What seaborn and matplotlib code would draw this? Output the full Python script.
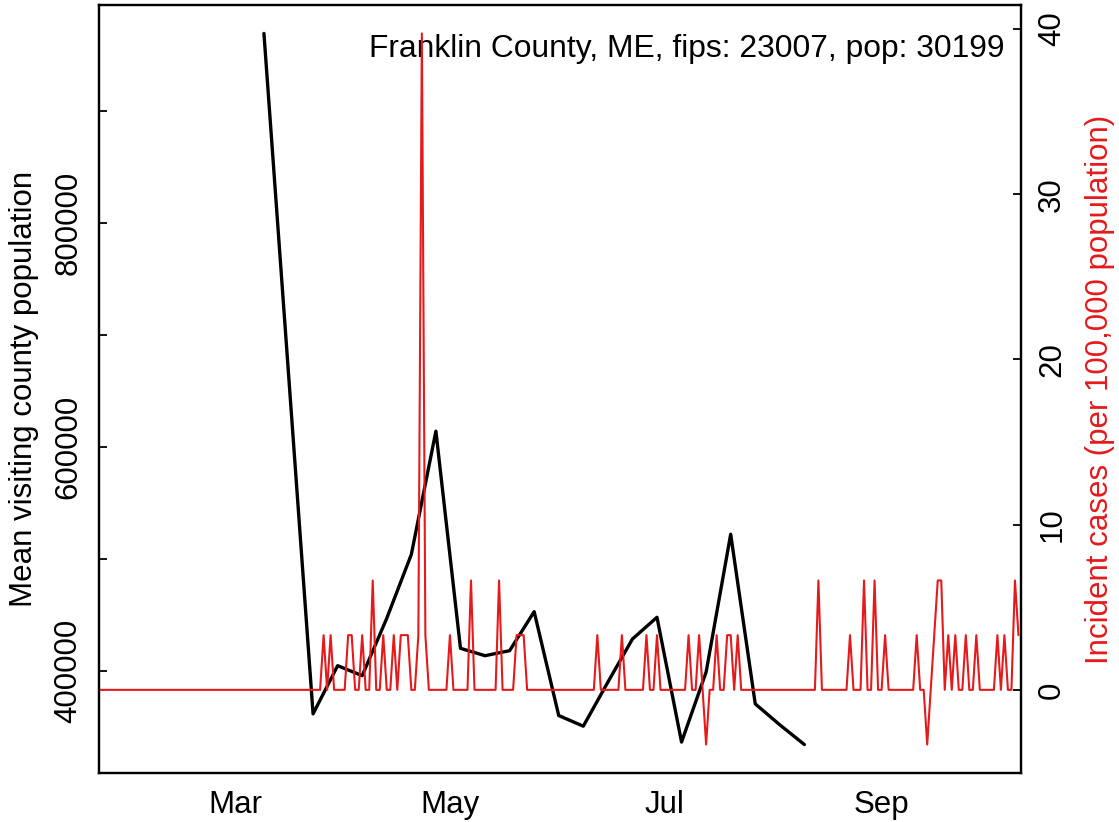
import numpy as np
import pandas as pd
import matplotlib
matplotlib.use("Agg")
import matplotlib.pyplot as plt
import matplotlib.dates as mdates
import matplotlib.ticker as mticker
import seaborn as sns

# weekly mean visiting county population (left axis, black)
visit_dates = ["2020-03-09", "2020-03-23", "2020-03-30", "2020-04-06", "2020-04-13",
               "2020-04-20", "2020-04-27", "2020-05-04", "2020-05-11", "2020-05-18",
               "2020-05-25", "2020-06-01", "2020-06-08", "2020-06-15", "2020-06-22",
               "2020-06-29", "2020-07-06", "2020-07-13", "2020-07-20", "2020-07-27",
               "2020-08-03", "2020-08-10"]
visit_pop = [969000, 361700, 404700, 395800, 447000,
             504000, 614000, 420200, 413600, 418100,
             452900, 360200, 350700, 390000, 428500,
             447900, 336500, 399000, 522000, 370600,
             351900, 334300]

# daily new cases (right axis, red); days not listed had 0 new cases
case_start = "2020-01-22"
case_end = "2020-10-10"
case_dates = ["2020-03-26", "2020-03-28", "2020-04-02", "2020-04-03", "2020-04-06",
              "2020-04-09", "2020-04-12", "2020-04-15", "2020-04-17", "2020-04-18",
              "2020-04-19", "2020-04-22", "2020-04-23", "2020-04-24", "2020-05-01",
              "2020-05-07", "2020-05-15", "2020-05-20", "2020-05-21", "2020-05-22",
              "2020-06-12", "2020-06-19", "2020-06-26", "2020-06-29", "2020-07-08",
              "2020-07-11", "2020-07-13", "2020-07-16", "2020-07-19", "2020-07-20",
              "2020-07-22", "2020-08-14", "2020-08-23", "2020-08-27", "2020-08-30",
              "2020-09-02", "2020-09-11", "2020-09-14", "2020-09-16", "2020-09-17",
              "2020-09-18", "2020-09-20", "2020-09-22", "2020-09-25", "2020-09-28",
              "2020-10-04", "2020-10-06", "2020-10-09", "2020-10-10"]
case_counts = [1, 1, 1, 1, 1,
               2, 1, 1, 1, 1,
               1, 1, 12, 1, 1,
               2, 2, 1, 1, 1,
               1, 1, 1, 1, 1,
               1, -1, 1, 1, 1,
               1, 2, 1, 2, 2,
               1, 1, -1, 1, 2,
               2, 1, 1, 1, 1,
               1, 1, 2, 1]
county_pop = 30199

label_text = "Franklin County, ME, fips: 23007, pop: 30199"

# build tables
df_visit = pd.DataFrame({"date": pd.to_datetime(visit_dates), "pop": visit_pop})
days = pd.date_range(case_start, case_end, freq="D")
cases = pd.Series(case_counts, index=pd.to_datetime(case_dates)).reindex(days, fill_value=0)
df_cases = pd.DataFrame({"date": days, "rate": cases.values * 1e5 / county_pop})

sns.set_style("white")
plt.rcParams["font.family"] = ["Liberation Sans", "DejaVu Sans"]
plt.rcParams["font.size"] = 22.5
for k in ("text.color", "axes.labelcolor", "xtick.color", "ytick.color", "axes.edgecolor"):
    plt.rcParams[k] = "black"

red = "#e41a1c"
fs = 22.5
W, H = 1119, 822
fig = plt.figure(figsize=(W / 100, H / 100), dpi=100)
fig.subplots_adjust(left=99 / W, right=1020.5 / W, bottom=(H - 773) / H, top=(H - 5) / H)
ax = fig.add_subplot(111)
ax2 = ax.twinx()

sns.lineplot(data=df_visit, x="date", y="pop", ax=ax, color="black", linewidth=2.4)
sns.lineplot(data=df_cases, x="date", y="rate", ax=ax2, color=red, linewidth=1.5)

ax.text(0.983, 0.932, label_text, transform=ax.transAxes, ha="right", va="baseline",
        fontsize=22.9, color="black")

# R style padded limits (4%)
def padded(lo, hi):
    r = hi - lo
    return lo - 0.04 * r, hi + 0.04 * r

ax.set_ylim(*padded(min(visit_pop), max(visit_pop)))
ax2.set_ylim(*padded(df_cases["rate"].min(), df_cases["rate"].max()))
ax.set_xlim(pd.Timestamp(case_start), pd.Timestamp(case_end) + pd.Timedelta(hours=14))

ax.xaxis.set_major_locator(mdates.MonthLocator(bymonth=[3, 5, 7, 9]))
ax.xaxis.set_major_formatter(mdates.DateFormatter("%b"))

ax.yaxis.set_major_locator(mticker.FixedLocator(np.arange(400000, 900001, 100000)))
ax.yaxis.set_major_formatter(mticker.FuncFormatter(
    lambda v, p: f"{int(round(v))}" if int(round(v)) in (400000, 600000, 800000) else ""))
ax2.yaxis.set_major_locator(mticker.FixedLocator([0, 10, 20, 30, 40]))
ax2.yaxis.set_major_formatter(mticker.FuncFormatter(lambda v, p: f"{int(v)}"))

for a in (ax, ax2):
    a.tick_params(direction="in", length=6, width=1.3, color="black",
                  labelcolor="black", labelsize=fs)
    for s in a.spines.values():
        s.set_linewidth(1.6)
        s.set_color("black")
ax.tick_params(axis="x", pad=12)
ax.tick_params(axis="y", pad=11)
ax2.tick_params(axis="y", pad=12)
for t in ax.get_yticklabels():
    t.set_rotation(90)
    t.set_va("center")
for t in ax2.get_yticklabels():
    t.set_rotation(90)
    t.set_va("center")

ax.set_xlabel("")
ax.set_ylabel("Mean visiting county population", fontsize=fs, color="black")
ax.yaxis.set_label_coords((39 - 99) / 921.5, 0.5)
ax2.set_ylabel("Incident cases (per 100,000 population)", fontsize=fs, color=red)
ax2.yaxis.set_label_coords((1085 - 99) / 921.5, 0.5)

fig.savefig("out.png", dpi=100)
